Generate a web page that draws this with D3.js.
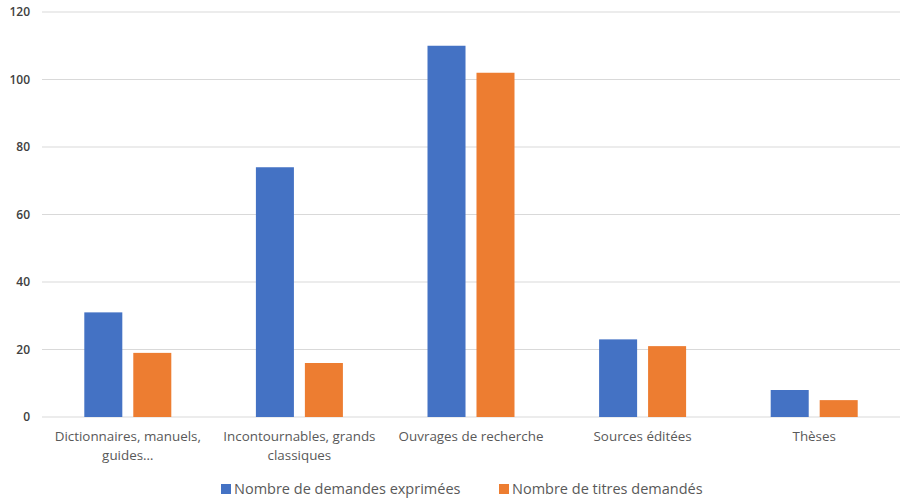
<!DOCTYPE html>
<html>
<head>
<meta charset="utf-8">
<script src="https://cdn.jsdelivr.net/npm/d3@7"></script>
<style>
  body { margin: 0; background: #fff; }
  text { font-family: "Open Sans", sans-serif; }
</style>
</head>
<body>
<div id="chart"></div>
<script>
// Data.
const categories = [
  'Dictionnaires, manuels, guides…',
  'Incontournables, grands classiques',
  'Ouvrages de recherche',
  'Sources éditées',
  'Thèses'
];
const seriesNames = ['Nombre de demandes exprimées', 'Nombre de titres demandés'];
const demandes = [31, 74, 110, 23, 8];
const titres = [19, 16, 102, 21, 5];
const yTicks = [0, 20, 40, 60, 80, 100, 120];
const colors = ['#4472C4', '#ED7D31'];

const W = 904, H = 498;
const margin = { top: 12, right: 4, bottom: 81, left: 42 },
  width = W - margin.left - margin.right,
  height = H - margin.top - margin.bottom;

const svg = d3.select('#chart').append('svg')
  .attr('width', W).attr('height', H);
const g = svg.append('g')
  .attr('transform', 'translate(' + margin.left + ',' + margin.top + ')');

const rows = categories.map((c, i) => ({ cat: c, values: [demandes[i], titres[i]] }));

const x0 = d3.scaleBand().domain(categories).range([0, width]).padding(0);
const x1 = d3.scaleBand().domain([0, 1])
  .range([x0.bandwidth() / 2 - 43.5, x0.bandwidth() / 2 + 43.5])
  .paddingInner(0.224);
const y = d3.scaleLinear().domain([0, 120]).range([height, 0]);

// Gridlines
g.append('g').selectAll('line')
  .data(yTicks)
  .join('line')
  .attr('x1', 0).attr('x2', width)
  .attr('y1', d => y(d)).attr('y2', d => y(d))
  .attr('stroke', '#d9d9d9').attr('stroke-width', 1);

// Y labels
const yAxis = g.append('g')
  .call(d3.axisLeft(y).tickValues(yTicks).tickSize(0).tickPadding(12));
yAxis.select('.domain').remove();
yAxis.selectAll('text')
  .attr('fill', '#404040').style('font-size', '12px').style('font-weight', '600');

// Bars
g.append('g').selectAll('g')
  .data(rows)
  .join('g')
  .attr('transform', d => 'translate(' + x0(d.cat) + ',0)')
  .selectAll('rect')
  .data(d => d.values.map((v, k) => ({ k, v })))
  .join('rect')
  .attr('x', d => x1(d.k))
  .attr('width', x1.bandwidth())
  .attr('y', d => y(d.v))
  .attr('height', d => y(0) - y(d.v))
  .attr('fill', d => colors[d.k]);

// Category labels
const xAxis = g.append('g')
  .attr('transform', 'translate(0,' + height + ')')
  .call(d3.axisBottom(x0).tickSize(0).tickPadding(14));
xAxis.select('.domain').remove();
xAxis.selectAll('text')
  .attr('fill', '#595959').style('font-size', '13.4px')
  .call(wrap, 168);

function wrap(texts, w) {
  texts.each(function() {
    const text = d3.select(this);
    const words = text.text().split(/\s+/);
    const yy = text.attr('y'), dy = parseFloat(text.attr('dy'));
    let line = [], lineNo = 0;
    let tspan = text.text(null).append('tspan').attr('x', 0).attr('y', yy).attr('dy', dy + 'em');
    for (const word of words) {
      line.push(word);
      tspan.text(line.join(' '));
      if (tspan.node().getComputedTextLength() > w && line.length > 1) {
        line.pop();
        tspan.text(line.join(' '));
        line = [word];
        tspan = text.append('tspan').attr('x', 0).attr('y', yy)
          .attr('dy', (++lineNo * 1.48 + dy) + 'em').text(word);
      }
    }
  });
}

// Legend
const legend = svg.append('g').attr('transform', 'translate(0,489)');
const legendX = [221, 499];
seriesNames.forEach((name, k) => {
  legend.append('rect')
    .attr('x', legendX[k]).attr('y', -5)
    .attr('width', 10).attr('height', 10)
    .attr('fill', colors[k]);
  legend.append('text')
    .attr('x', legendX[k] + 13).attr('y', 0)
    .attr('dy', '0.35em')
    .attr('fill', '#595959').style('font-size', '14.5px')
    .text(name);
});
</script>
</body>
</html>
